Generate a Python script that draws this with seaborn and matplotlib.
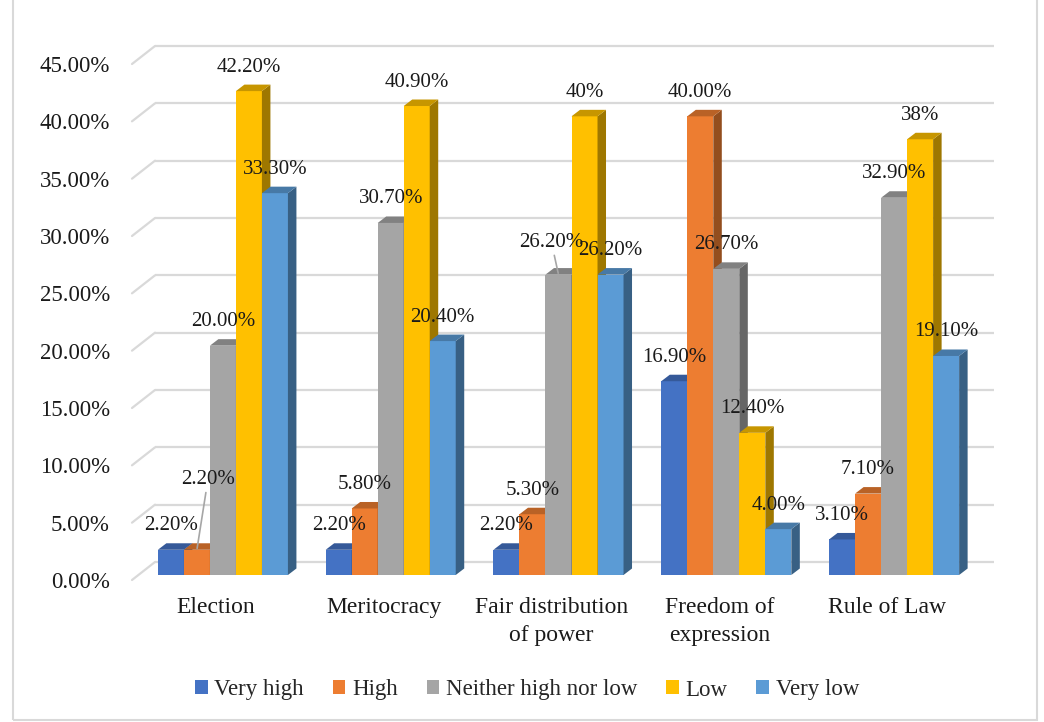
import numpy as np
import pandas as pd
import matplotlib
matplotlib.use("Agg")
import matplotlib.pyplot as plt
import seaborn as sns
import matplotlib.transforms as mtransforms
from matplotlib.patches import Polygon, Rectangle, Patch
from matplotlib.colors import to_rgb

# ---------------- data ----------------
categories = ["Election", "Meritocracy", "Fair distribution\nof power",
              "Freedom of\nexpression", "Rule of Law"]
series = ["Very high", "High", "Neither high nor low", "Low", "Very low"]

very_high = [2.2, 2.2, 2.2, 16.9, 3.1]
high = [2.2, 5.8, 5.3, 40.0, 7.1]
neither = [20.0, 30.7, 26.2, 26.7, 32.9]
low = [42.2, 40.9, 40.0, 12.4, 38.0]
very_low = [33.3, 20.4, 26.2, 4.0, 19.1]

labels_very_high = ["2.20%", "2.20%", "2.20%", "16.90%", "3.10%"]
labels_high = ["2.20%", "5.80%", "5.30%", "40.00%", "7.10%"]
labels_neither = ["20.00%", "30.70%", "26.20%", "26.70%", "32.90%"]
labels_low = ["42.20%", "40.90%", "40%", "12.40%", "38%"]
labels_very_low = ["33.30%", "20.40%", "26.20%", "4.00%", "19.10%"]

yticks = [0, 5, 10, 15, 20, 25, 30, 35, 40, 45]
ytick_labels = ["0.00%", "5.00%", "10.00%", "15.00%", "20.00%", "25.00%",
                "30.00%", "35.00%", "40.00%", "45.00%"]

colors = ["#4472C4", "#ED7D31", "#A5A5A5", "#FFC000", "#5B9BD5"]

values = [very_high, high, neither, low, very_low]
value_labels = [labels_very_high, labels_high, labels_neither, labels_low, labels_very_low]

df = pd.DataFrame({
    "category": [c for s in series for c in categories],
    "rating": [s for s in series for c in categories],
    "value": [v for vals in values for v in vals],
})

# ---------------- style ----------------
sns.set_style("white")
plt.rcParams["font.family"] = ["Liberation Serif", "DejaVu Serif"]
FS_DATA = 15
FS_TICK = 16.5
FS_CAT = 17
FS_LEG = 16.5
TXT = "#1a1a1a"
W, H = 1044, 722

fig = plt.figure(figsize=(W / 100, H / 100), dpi=100)
fig.patch.set_facecolor("white")
ax = fig.add_axes([139 / W, (H - 575) / H, 839 / W, 516 / H])

sns.barplot(data=df, x="category", y="value", hue="rating",
            order=categories, hue_order=series, palette=colors,
            saturation=1, width=0.775, errorbar=None, legend=False,
            linewidth=0, ax=ax)

ax.set_xlim(-0.5, 4.5)
ax.set_ylim(0, 45)
ax.set_xlabel("")
ax.set_ylabel("")
for s in ax.spines.values():
    s.set_visible(False)
ax.set_facecolor("none")

# pixel -> data unit conversion
p0 = ax.transData.transform((0, 0))
p1 = ax.transData.transform((1, 1))
ppx = p1[0] - p0[0]
ppy = p1[1] - p0[1]
def dx(px):
    return px / ppx
def dy(px):
    return px / ppy

# ---------------- 3D-style gridlines ----------------
grid_c = "#d9d9d9"
for v in yticks:
    ax.plot([-0.5 + dx(16), 4.5 + dx(16)], [v + dy(13), v + dy(13)],
            color=grid_c, lw=1.6, clip_on=False, zorder=0.5,
            solid_capstyle="butt")
    ax.plot([-0.5 - dx(7), -0.5 + dx(16)], [v - dy(5), v + dy(13)],
            color=grid_c, lw=1.6, clip_on=False, zorder=0.5)

# ---------------- ticks ----------------
ax.set_yticks(yticks)
ax.set_yticklabels(ytick_labels, fontsize=FS_TICK, color=TXT)
ax.tick_params(axis="y", length=0, pad=21)
for lab in ax.get_yticklabels():
    lab.set_transform(lab.get_transform() +
                      mtransforms.ScaledTranslation(0, -5 / 100, fig.dpi_scale_trans))
ax.set_xticks(range(len(categories)))
ax.set_xticklabels(categories, fontsize=FS_CAT, color=TXT, linespacing=1.4)
ax.tick_params(axis="x", length=0, pad=16)
for lab in ax.get_xticklabels():
    lab.set_transform(lab.get_transform() +
                      mtransforms.ScaledTranslation(-7 / 100, 0, fig.dpi_scale_trans))

# ---------------- 3D bar faces + labels ----------------
DX, DY = 8.5, 6.5
special = {(1, 0): (11, 70), (2, 2): (-7, 32)}
for k, cont in enumerate(ax.containers):
    base = np.array(to_rgb(colors[k]))
    top_c = tuple(base * 0.78)
    side_c = tuple(base * 0.62)
    for j, bar in enumerate(cont.patches):
        x0 = bar.get_x()
        w = bar.get_width()
        h = bar.get_height()
        x1 = x0 + w
        bar.set_zorder(3 + 3 * k)
        side = Polygon([(x1, 0), (x1 + dx(DX), dy(DY)),
                        (x1 + dx(DX), h + dy(DY)), (x1, h)],
                       closed=True, facecolor=side_c, edgecolor="none",
                       zorder=4 + 3 * k)
        top = Polygon([(x0, h), (x1, h), (x1 + dx(DX), h + dy(DY)),
                       (x0 + dx(DX), h + dy(DY))],
                      closed=True, facecolor=top_c, edgecolor="none",
                      zorder=4 + 3 * k)
        ax.add_patch(side)
        ax.add_patch(top)
        cx = x0 + w / 2
        txt = value_labels[k][j]
        if (k, j) in special:
            ox, oy = special[(k, j)]
            ax.annotate(txt, xy=(cx, h), xytext=(ox, oy),
                        textcoords="offset pixels", ha="center", va="center",
                        fontsize=FS_DATA, color=TXT, zorder=30,
                        arrowprops=dict(arrowstyle="-", color="#a6a6a6",
                                        lw=1.2, shrinkA=0, shrinkB=1))
        else:
            ax.annotate(txt, xy=(cx, h), xytext=(0, 24),
                        textcoords="offset pixels", ha="center", va="center",
                        fontsize=FS_DATA, color=TXT, zorder=30)

# ---------------- legend ----------------
handles = [Patch(facecolor=c, edgecolor="none") for c in colors]
fig.legend(handles, series, loc="center",
           bbox_to_anchor=(527 / W, 1 - 690 / H), ncol=5, frameon=False,
           fontsize=FS_LEG, handlelength=0.55, handleheight=0.55,
           handletextpad=0.3, columnspacing=1.25)

# ---------------- outer border ----------------
fig.add_artist(Rectangle((13 / W, 2 / H), (1037 - 13) / W, 1.5,
                         transform=fig.transFigure, fill=False,
                         edgecolor="#d9d9d9", lw=1.5))

fig.savefig("out.png", dpi=100, facecolor="white")
